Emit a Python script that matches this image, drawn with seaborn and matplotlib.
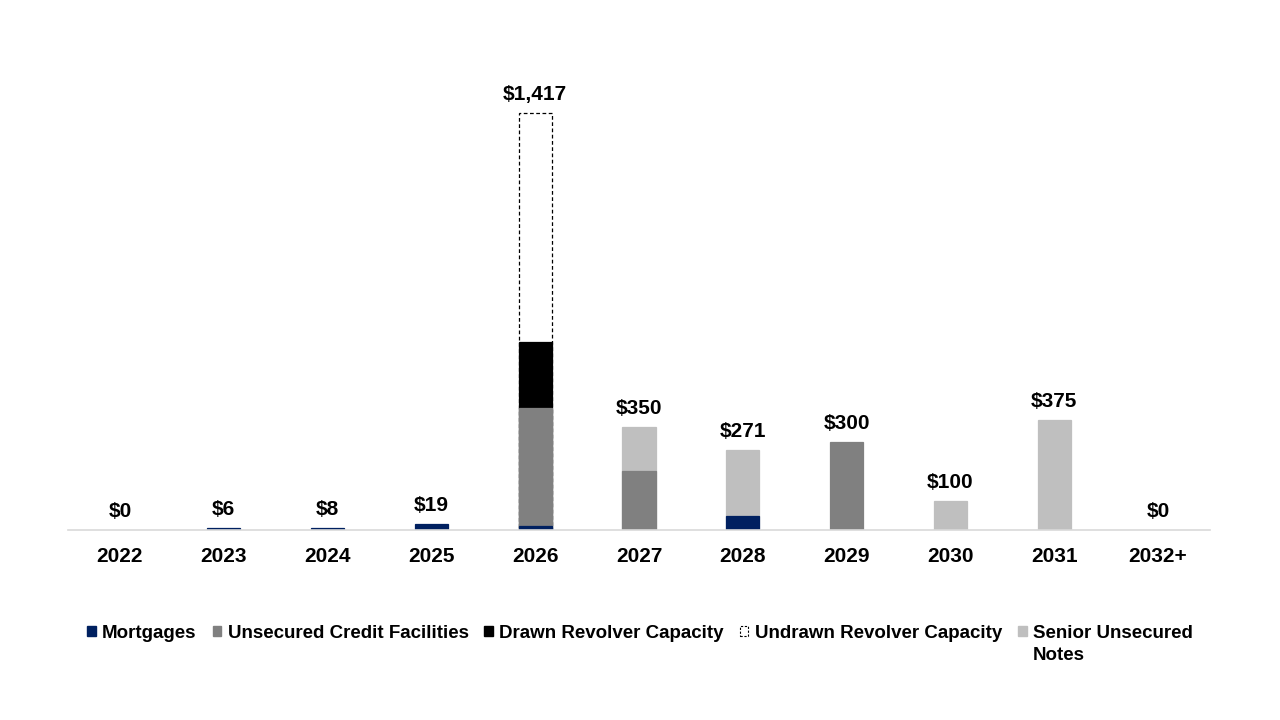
import matplotlib
matplotlib.use("Agg")
import matplotlib.pyplot as plt
import seaborn as sns
import pandas as pd
from matplotlib.patches import Patch

# maturity schedule ($ millions)
years = ["2022", "2023", "2024", "2025", "2026", "2027",
         "2028", "2029", "2030", "2031", "2032+"]
mortgages = [0, 6, 8, 19, 14, 0, 46, 0, 0, 0, 0]
unsecured_credit = [0, 0, 0, 0, 400, 200, 0, 300, 0, 0, 0]
drawn_revolver = [0, 0, 0, 0, 224, 0, 0, 0, 0, 0, 0]
undrawn_revolver = [0, 0, 0, 0, 779, 0, 0, 0, 0, 0, 0]
senior_notes = [0, 0, 0, 0, 0, 150, 225, 0, 100, 375, 0]

layer_names = ["Mortgages", "Unsecured Credit Facilities", "Drawn Revolver Capacity",
               "Undrawn Revolver Capacity", "Senior Unsecured Notes"]
layer_values = [mortgages, unsecured_credit, drawn_revolver, undrawn_revolver, senior_notes]
layer_colors = ["#002060", "#808080", "#000000", "#FFFFFF", "#BFBFBF"]

df = pd.DataFrame({"year": years})
running = pd.Series([0] * len(years))
for name, vals in zip(layer_names, layer_values):
    df[name] = vals
    running = running + pd.Series(vals)
    df[name + "_top"] = running
df["total"] = running

sns.set_theme(style="white")
plt.rcParams["font.family"] = ["Liberation Sans", "DejaVu Sans"]
plt.rcParams["text.color"] = "black"
plt.rcParams["xtick.color"] = "black"

fig = plt.figure(figsize=(12.8, 7.2), dpi=100)
ax = fig.add_axes([68 / 1280, 190 / 720, 1142 / 1280, 471 / 720])

# draw cumulative tops from the highest layer down so lower layers overlay
for name, color in reversed(list(zip(layer_names, layer_colors))):
    sub = df[df[name] > 0]
    if name == "Undrawn Revolver Capacity":
        style = dict(edgecolor="black", linewidth=0.9, linestyle=(0, (3, 2)))
    else:
        style = dict(edgecolor=color, linewidth=0.9)
    sns.barplot(data=sub, x="year", y=name + "_top", order=years, color=color,
                saturation=1, width=0.32, errorbar=None, ax=ax, **style)

for i, total in enumerate(df["total"]):
    ax.annotate(f"${total:,.0f}", (i, total), xytext=(0, 6.5), textcoords="offset points",
                ha="center", va="bottom", fontsize=15, fontweight="bold", color="black")

ax.set_xlim(-0.5, len(years) - 0.5)
ax.set_ylim(0, 1600)
ax.set_yticks([])
ax.set_xlabel("")
ax.set_ylabel("")
ax.tick_params(axis="x", length=0, pad=12, labelsize=15, labelcolor="black")
for lbl in ax.get_xticklabels():
    lbl.set_fontweight("bold")
for side in ["top", "right", "left"]:
    ax.spines[side].set_visible(False)
ax.spines["bottom"].set_color("#D9D9D9")
ax.spines["bottom"].set_linewidth(1.2)
ax.set_facecolor("white")

handles = []
for name, color in zip(layer_names, layer_colors):
    if name == "Undrawn Revolver Capacity":
        handles.append(Patch(facecolor="white", edgecolor="black", linewidth=0.8,
                             linestyle=(0, (2, 1.5))))
    else:
        handles.append(Patch(facecolor=color, edgecolor=color))
labels = layer_names[:4] + ["Senior Unsecured"]
leg = fig.legend(handles, labels, loc="center", bbox_to_anchor=(0.5, 1 - 633 / 720),
                 ncol=5, frameon=False, prop={"weight": "bold", "size": 13.5},
                 handlelength=0.45, handleheight=0.45, handletextpad=0.35,
                 columnspacing=0.85, labelcolor="black")

# wrapped second line of the last legend label
fig.canvas.draw()
bb = leg.get_texts()[-1].get_window_extent()
fig.text(bb.x0 / 1280, 1 - 656 / 720, "Notes", ha="left", va="center",
         fontsize=13.5, fontweight="bold", color="black")

fig.savefig("out.png", dpi=100, facecolor="white")
plt.close(fig)
